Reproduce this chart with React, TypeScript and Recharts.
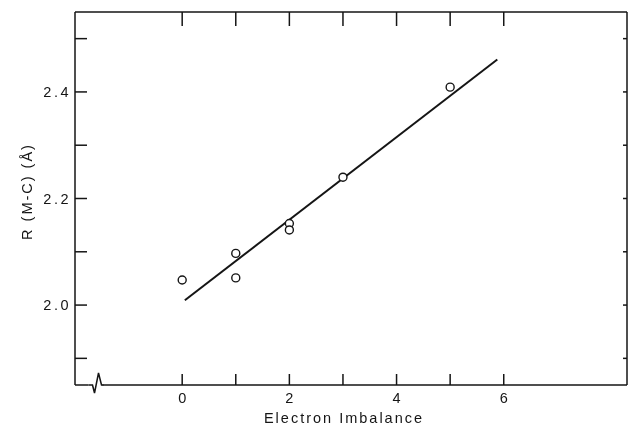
import React from 'react';
import {ComposedChart, Scatter, Line, XAxis, YAxis, ReferenceDot, ReferenceLine} from 'recharts';

const imbalance = [0, 1, 1, 2, 2, 3, 5];
const distance = [2.047, 2.097, 2.051, 2.153, 2.141, 2.24, 2.409];

// least squares line as drawn
const fitX = [0.05, 5.88];
const fitY = [2.009, 2.461];

const xTicks = [0, 1, 2, 3, 4, 5, 6];
const xTickLabels = [0, 2, 4, 6];
const yTicks = [1.9, 2.0, 2.1, 2.2, 2.3, 2.4, 2.5];
const yTickLabels = [2.0, 2.2, 2.4];
const xDomain = [-2, 8.3];
const yDomain = [1.85, 2.55];
const xBreakAt = -1.58;

const points = imbalance.map((x, i) => ({x, y: distance[i]}));
const fit = fitX.map((x, i) => ({x, y: fitY[i]}));

const ink = '#151515';
const font = '"Liberation Sans", Arial, sans-serif';

const hasLabel = (list: number[], v: number) => list.some(l => Math.abs(l - v) < 1e-6);

const BottomTick = (props: any) => {
    const {x, y, payload} = props;
    return (
        <g>
            <line x1={x} x2={x} y1={y} y2={y - 11} stroke={ink} strokeWidth={1.5}/>
            {hasLabel(xTickLabels, payload.value) && (
                <text x={x} y={y + 18} textAnchor="middle" fontSize={14.5}
                      fontFamily={font} fill={ink}>{payload.value}</text>
            )}
        </g>
    );
};

const LeftTick = (props: any) => {
    const {x, y, payload} = props;
    return (
        <g>
            <line x1={x} x2={x + 12} y1={y} y2={y} stroke={ink} strokeWidth={1.5}/>
            {hasLabel(yTickLabels, payload.value) && (
                <text x={x - 4} y={y + 5} textAnchor="end" fontSize={14.5} letterSpacing={2.5}
                      fontFamily={font} fill={ink}>{payload.value.toFixed(1)}</text>
            )}
        </g>
    );
};

// tick marks on the top and right sides of the box
const TopTickMark = (props: any) => (
    <line x1={props.cx} x2={props.cx} y1={props.cy} y2={props.cy + 14} stroke={ink} strokeWidth={1.5}/>
);
const RightTickMark = (props: any) => (
    <line x1={props.cx} x2={props.cx - 4} y1={props.cy} y2={props.cy} stroke={ink} strokeWidth={1.5}/>
);

const AxisBreak = (props: any) => {
    const {cx, cy} = props;
    return (
        <g>
            <line x1={cx - 9} x2={cx + 5} y1={cy} y2={cy} stroke="#fff" strokeWidth={3}/>
            <path d={`M${cx - 9},${cy} L${cx - 5},${cy} L${cx - 3},${cy + 8} L${cx + 1},${cy - 12} L${cx + 4},${cy} L${cx + 6},${cy}`}
                  fill="none" stroke={ink} strokeWidth={1.5}/>
        </g>
    );
};

export default function App() {
    return (
        <div style={{position: 'fixed', left: 0, top: 0}}>
            <ComposedChart width={628} height={425} data={points}
                           margin={{top: 12, right: 1, bottom: 0, left: 0}}>
                <XAxis type="number" dataKey="x" domain={xDomain} allowDataOverflow
                       ticks={xTicks} tickSize={0} tickMargin={0} height={40}
                       axisLine={{stroke: ink, strokeWidth: 1.5}} tickLine={false} tick={BottomTick}
                       label={{
                           content: ({viewBox}: any) => (
                               <text x={viewBox.x + viewBox.width / 2 - 7} y={viewBox.y + 38}
                                     textAnchor="middle" fontSize={14.5} letterSpacing={2}
                                     fontFamily={font} fill={ink}>Electron Imbalance</text>
                           )
                       }}/>
                <YAxis type="number" domain={yDomain} allowDataOverflow ticks={yTicks}
                       tickSize={0} tickMargin={0} width={75}
                       axisLine={{stroke: ink, strokeWidth: 1.5}} tickLine={false} tick={LeftTick}
                       label={{
                           content: ({viewBox}: any) => {
                               const cx = viewBox.x + 27;
                               const cy = viewBox.y + viewBox.height / 2 - 7;
                               return (
                                   <text x={cx} y={cy} transform={`rotate(-90 ${cx} ${cy})`}
                                         textAnchor="middle" dominantBaseline="central" fontSize={14.5}
                                         letterSpacing={2} fontFamily={font} fill={ink}>R (M-C)  (Å)</text>
                               );
                           }
                       }}/>
                <Line data={fit} dataKey="y" type="linear" stroke={ink}
                      strokeWidth={2} dot={false} activeDot={false} isAnimationActive={false}/>
                <Scatter data={points} dataKey="y" fill="#fff" stroke={ink}
                         strokeWidth={1.4} isAnimationActive={false}
                         shape={(p: any) => <circle cx={p.cx} cy={p.cy} r={4} fill="#fff" stroke={ink}
                                                    strokeWidth={1.4}/>}/>
                <ReferenceLine y={yDomain[1]} stroke={ink} strokeWidth={1.5}/>
                <ReferenceLine x={xDomain[1]} stroke={ink} strokeWidth={1.5}/>
                {xTicks.map(t => (
                    <ReferenceDot key={'t' + t} x={t} y={yDomain[1]} shape={TopTickMark}/>
                ))}
                {yTicks.map(t => (
                    <ReferenceDot key={'r' + t} x={xDomain[1]} y={t} shape={RightTickMark}/>
                ))}
                <ReferenceDot x={xBreakAt} y={yDomain[0]} ifOverflow="visible" shape={AxisBreak}/>
            </ComposedChart>
        </div>
    );
}
